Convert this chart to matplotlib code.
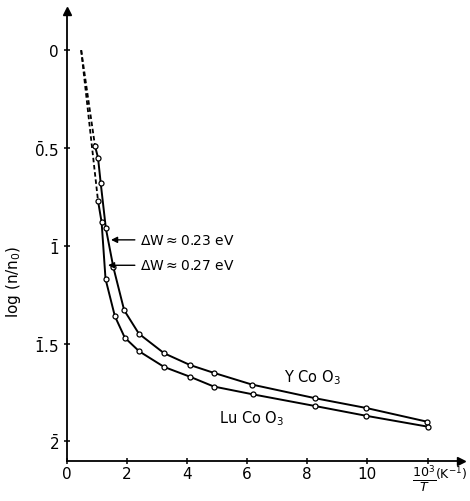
import numpy as np
import matplotlib.pyplot as plt

# values (x = 10^3/T, y = log(n/n0), axis points down)
y_x = [0.94, 1.04, 1.13, 1.30, 1.55, 1.91, 2.40, 3.24, 4.10, 4.89, 6.16, 8.27, 9.97, 11.99]
y_y = [0.49, 0.55, 0.68, 0.91, 1.11, 1.33, 1.45, 1.55, 1.61, 1.65, 1.71, 1.78, 1.83, 1.90]

lu_x = [1.04, 1.16, 1.29, 1.60, 1.93, 2.41, 3.24, 4.10, 4.89, 6.19, 8.27, 9.97, 12.00]
lu_y = [0.77, 0.88, 1.17, 1.36, 1.47, 1.54, 1.62, 1.67, 1.72, 1.76, 1.82, 1.87, 1.925]

# dashed extrapolation towards log(n/n0) = 0
dash_start = (0.48, 0.0)

xticks = [0, 2, 4, 6, 8, 10, 12]
xtick_labels = ['0', '2', '4', '6', '8', '10', '']
yticks = [0, 0.5, 1, 1.5, 2]
ytick_labels = ['0', r'$\bar{0}$.5', r'$\bar{1}$', r'$\bar{1}$.5', r'$\bar{2}$']

fig = plt.figure(figsize=(4.7, 5.02), dpi=100)
ax = fig.add_axes([0.142, 0.080, 0.838, 0.896])

# curves
for xs, ys in [(y_x, y_y), (lu_x, lu_y)]:
    ax.plot(xs, ys, color='black', lw=1.4, zorder=2)
    ax.plot(xs, ys, 'o', ms=3.6, mfc='white', mec='black', mew=0.9, zorder=3)
    ax.plot([dash_start[0], xs[0]], [dash_start[1], ys[0]], color='black',
            lw=1.3, ls=(0, (2.5, 1.5)), zorder=1)

ax.set_xlim(0, 13.1)
ax.set_ylim(2.1, -0.2)

# axes with arrow heads
ax.spines['top'].set_visible(False)
ax.spines['right'].set_visible(False)
ax.spines['left'].set_linewidth(1.3)
ax.spines['bottom'].set_linewidth(1.3)
ax.plot(1, 0, '>', color='black', ms=6, transform=ax.transAxes, clip_on=False)
ax.plot(0, 1, '^', color='black', ms=6, transform=ax.transAxes, clip_on=False)

ax.set_xticks(xticks)
ax.set_xticklabels(xtick_labels)
ax.set_yticks(yticks)
ax.set_yticklabels(ytick_labels)
ax.tick_params(axis='both', direction='inout', length=5, width=1.1, labelsize=11)
ax.tick_params(axis='x', pad=1)
ax.tick_params(axis='y', pad=3)

# x axis label as fraction under the last tick
ax.text(11.9, 2.19, r'$\frac{10^3}{T}$', ha='center', va='center', fontsize=13)
ax.text(12.25, 2.165, r'(K$^{-1}$)', ha='left', va='center', fontsize=9)

ax.set_ylabel(r'log (n/n$_0$)', fontsize=11)
ax.yaxis.set_label_coords(-0.112, 0.40)

# activation energy arrows
ax.annotate(r'$\Delta$W$\approx$0.23 eV', xy=(1.38, 0.97), xytext=(2.45, 0.97),
            va='center', fontsize=10,
            arrowprops=dict(arrowstyle='-|>', color='black', lw=1.0, mutation_scale=9))
ax.annotate(r'$\Delta$W$\approx$0.27 eV', xy=(1.28, 1.10), xytext=(2.45, 1.10),
            va='center', fontsize=10,
            arrowprops=dict(arrowstyle='-|>', color='black', lw=1.0, mutation_scale=9))

# compound labels
ax.text(7.22, 1.67, r'Y Co O$_3$', fontsize=10.5, va='center')
ax.text(5.08, 1.88, r'Lu Co O$_3$', fontsize=10.5, va='center')

fig.savefig('out.png', dpi=100)
